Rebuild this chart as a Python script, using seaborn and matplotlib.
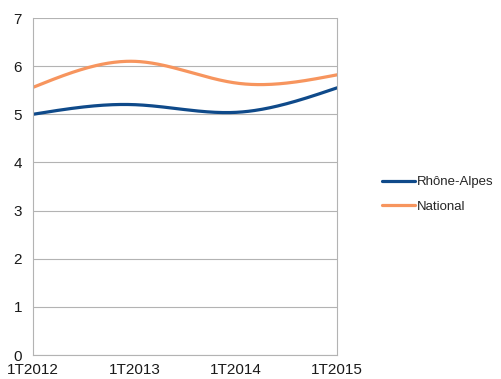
import numpy as np
import pandas as pd
import matplotlib
matplotlib.use("Agg")
import matplotlib.pyplot as plt
import seaborn as sns

# data
periods = ["1T2012", "1T2013", "1T2014", "1T2015"]
rhone_alpes = [5.0, 5.2, 5.04, 5.55]
national = [5.56, 6.1, 5.65, 5.82]

blue = "#0f4a8a"
orange = "#f7955e"


def natural_spline(x, y, n=200):
    # natural cubic spline, used only to draw the smoothed line
    x = np.asarray(x, float)
    y = np.asarray(y, float)
    k = len(x)
    h = np.diff(x)
    A = np.zeros((k, k))
    b = np.zeros(k)
    A[0, 0] = A[-1, -1] = 1
    for i in range(1, k - 1):
        A[i, i - 1] = h[i - 1]
        A[i, i] = 2 * (h[i - 1] + h[i])
        A[i, i + 1] = h[i]
        b[i] = 6 * ((y[i + 1] - y[i]) / h[i] - (y[i] - y[i - 1]) / h[i - 1])
    M = np.linalg.solve(A, b)
    xs = np.linspace(x[0], x[-1], n)
    idx = np.clip(np.searchsorted(x, xs) - 1, 0, k - 2)
    x0, x1 = x[idx], x[idx + 1]
    hh = x1 - x0
    t0, t1 = x1 - xs, xs - x0
    ys = (M[idx] * t0**3 + M[idx + 1] * t1**3) / (6 * hh) \
        + (y[idx] / hh - M[idx] * hh / 6) * t0 \
        + (y[idx + 1] / hh - M[idx + 1] * hh / 6) * t1
    return xs, ys


pos = np.arange(len(periods))
frames = []
for name, vals in [("Rhône-Alpes", rhone_alpes), ("National", national)]:
    xs, ys = natural_spline(pos, vals)
    frames.append(pd.DataFrame({"x": xs, "y": ys, "serie": name}))
df = pd.concat(frames, ignore_index=True)

sns.set_style("white")
plt.rcParams["font.family"] = ["Liberation Sans", "DejaVu Sans"]

fig = plt.figure(figsize=(5.01, 3.79), dpi=100)
ax = fig.add_axes([0.066, 0.0633, 0.607, 0.8892])

sns.lineplot(data=df, x="x", y="y", hue="serie", palette=[blue, orange],
             linewidth=2.3, ax=ax, legend=True, sort=False)

ax.set_xlim(0, 3)
ax.set_ylim(0, 7)
ax.set_xticks(pos)
ax.set_xticklabels(periods)
ax.set_yticks(range(8))
ax.set_xlabel("")
ax.set_ylabel("")
ax.grid(axis="y", color="#b3b3b3", linewidth=0.8)
ax.set_axisbelow(True)
for s in ["left", "bottom", "right"]:
    ax.spines[s].set_color("#b3b3b3")
    ax.spines[s].set_linewidth(0.8)
ax.spines["top"].set_visible(False)
ax.tick_params(axis="both", colors="#b3b3b3", length=5, width=0.8,
               labelsize=11, labelcolor="#1a1a1a", pad=1)
ax.tick_params(axis="y", pad=3)

h, l = ax.get_legend_handles_labels()
leg = ax.legend(h, l, loc="center left", bbox_to_anchor=(0.738, 0.487),
                bbox_transform=fig.transFigure, frameon=False, fontsize=9.5,
                handlelength=2.5, handletextpad=0.2, labelspacing=0.95)

fig.savefig("out.png", dpi=100)
